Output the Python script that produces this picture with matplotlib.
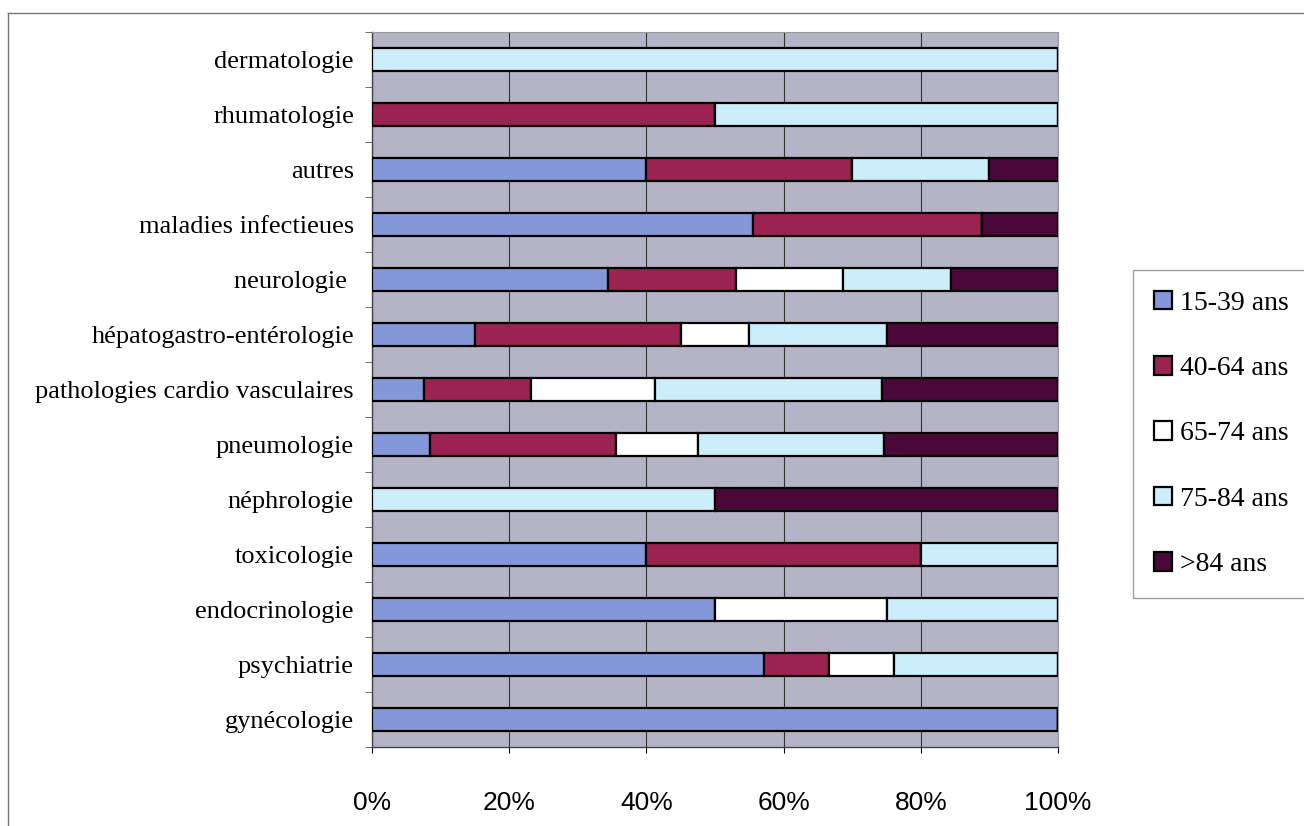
import numpy as np
import matplotlib.pyplot as plt
from matplotlib.lines import Line2D

# categories, top to bottom as in the chart
categories = ['dermatologie', 'rhumatologie', 'autres', 'maladies infectieues',
              'neurologie ', 'hépatogastro-entérologie', 'pathologies cardio vasculaires',
              'pneumologie', 'néphrologie', 'toxicologie', 'endocrinologie',
              'psychiatrie', 'gynécologie']

age_groups = ['15-39 ans', '40-64 ans', '65-74 ans', '75-84 ans', '>84 ans']

# percentage per age group, same order as categories
a15_39 = [0, 0, 40, 55.6, 34.4, 15, 7.6, 8.5, 0, 40, 50, 57.1, 100]
a40_64 = [0, 50, 30, 33.3, 18.7, 30, 15.6, 27.1, 0, 40, 0, 9.5, 0]
a65_74 = [0, 0, 0, 0, 15.6, 10, 18.1, 11.9, 0, 0, 25, 9.5, 0]
a75_84 = [100, 50, 20, 0, 15.7, 20, 33.0, 27.1, 50, 20, 25, 23.9, 0]
a84 = [0, 0, 10, 11.1, 15.6, 25, 25.7, 25.4, 50, 0, 0, 0, 0]

series = [a15_39, a40_64, a65_74, a75_84, a84]
colors = ['#8497D8', '#9B2352', '#FFFFFF', '#CCEEFA', '#4A0838']

plt.rcParams['font.family'] = ['Liberation Serif', 'DejaVu Serif']

fig = plt.figure(figsize=(13.04, 8.26), dpi=100)
ax = fig.add_axes([372 / 1304, 1 - 747 / 826, (1058 - 372) / 1304, (747 - 32) / 826])
ax.set_facecolor('#B4B4C6')

y = np.arange(len(categories))
left = np.zeros(len(categories))
for vals, col, lab in zip(series, colors, age_groups):
    vals = np.array(vals, dtype=float)
    ax.barh(y, vals, left=left, height=0.42, color=col, edgecolor='black',
            linewidth=1.6, label=lab, zorder=3)
    left += vals

ax.set_xlim(0, 100)
ax.set_ylim(len(categories) - 0.5, -0.5)
ax.set_xticks(np.arange(0, 101, 20))
ax.set_xticklabels([f'{v}%' for v in range(0, 101, 20)], family='Liberation Sans', fontsize=19)
ax.tick_params(axis='x', length=4, pad=28, color='black')
ax.xaxis.grid(True, color='#333333', linewidth=0.8, zorder=0)
ax.set_axisbelow(True)

ax.set_yticks(y)
ax.set_yticklabels(categories, fontsize=19)
ax.tick_params(axis='y', length=0, pad=13)
ax.set_yticks(np.arange(-0.5, len(categories), 1), minor=True)
ax.tick_params(axis='y', which='minor', length=5, color='#555555')

for s in ['left', 'bottom']:
    ax.spines[s].set_color('#444444')
    ax.spines[s].set_linewidth(1.0)
for s in ['top', 'right']:
    ax.spines[s].set_color('#999999')
    ax.spines[s].set_linewidth(0.8)

leg = fig.legend(loc='upper left', bbox_to_anchor=(1133 / 1304, 1 - 270 / 826),
                 fontsize=20, frameon=True, fancybox=False, edgecolor='#888888',
                 handlelength=0.65, handleheight=0.65, handletextpad=0.3,
                 labelspacing=1.45, borderpad=0.75, borderaxespad=0)
leg.get_frame().set_linewidth(1.0)

# outer chart border (left and top visible)
fig.add_artist(Line2D([8 / 1304, 8 / 1304], [0, 1 - 13 / 826], color='#777777', linewidth=1.0))
fig.add_artist(Line2D([8 / 1304, 1], [1 - 13 / 826, 1 - 13 / 826], color='#777777', linewidth=1.0))

fig.savefig('out.png', dpi=100)
